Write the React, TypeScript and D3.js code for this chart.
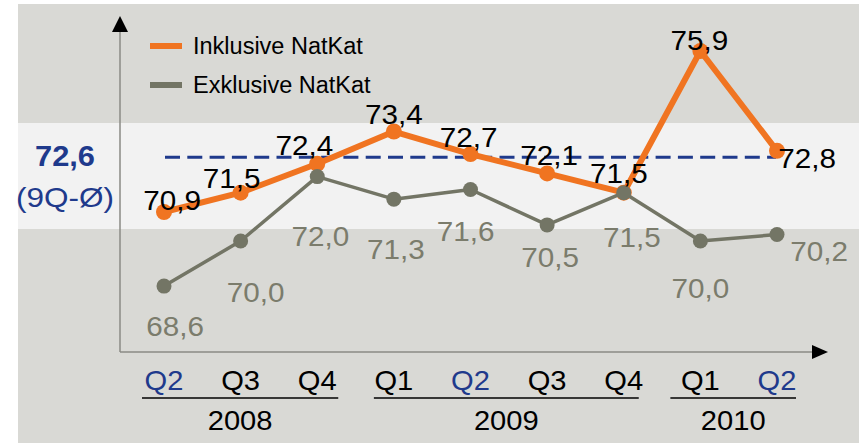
import React from "react";
import * as d3 from "d3";

const categories = ["Q2 2008", "Q3 2008", "Q4 2008", "Q1 2009", "Q2 2009", "Q3 2009", "Q4 2009", "Q1 2010", "Q2 2010"];
const quarterLabels = ["Q2", "Q3", "Q4", "Q1", "Q2", "Q3", "Q4", "Q1", "Q2"];
const highlighted = [true, false, false, false, true, false, false, false, true];
const inklusive = [70.9, 71.5, 72.4, 73.4, 72.7, 72.1, 71.5, 75.9, 72.8];
const exklusive = [68.6, 70.0, 72.0, 71.3, 71.6, 70.5, 71.5, 70.0, 70.2];
const average = 72.6;
const averageLabel = "72,6";
const averageSub = "(9Q-Ø)";
const years = ["2008", "2009", "2010"];
const yearStart = [0, 3, 7];
const yearEnd = [2, 6, 8];
const seriesNames = ["Inklusive NatKat", "Exklusive NatKat"];

// label offsets (layout only)
const inkOffsets: [number, number][] = [[8, -2], [-9, -5], [-13, -9], [0, -8], [-2, -7], [2, -8], [-5, -10], [-1, -1], [30, 17]];
const exkOffsets: [number, number][] = [[11, 50], [15, 61], [3, 69], [2, 60], [-5, 52], [3, 42], [8, 54], [0, 57], [42, 26]];
const yearPads: [number, number][] = [[22, 21], [20, 15], [30, 19]];

const W = 859;
const H = 443;
const ORANGE = "#f07421";
const GRAY = "#737565";
const GRAYTXT = "#7b7c6c";
const NAVY = "#1f3a8c";
const FONT = "'Liberation Sans', Arial, sans-serif";
const STRETCH = 1.06;

const fmt = (v: number) => v.toFixed(1).replace(".", ",");

function T(props: { x: number; y: number; size: number; fill: string; children: React.ReactNode; weight?: string }) {
  return (
    <text
      transform={`translate(${props.x},${props.y}) scale(${STRETCH},1)`}
      fontSize={props.size}
      fontWeight={props.weight || "normal"}
      textAnchor="middle"
      fill={props.fill}
    >
      {props.children}
    </text>
  );
}

export default function App() {
  const x = d3.scalePoint<string>().domain(categories).range([164, 777]);
  const y = d3.scaleLinear().domain([68, 76]).range([305.4, 47.8]);
  const line = d3
    .line<number>()
    .x((_, i) => x(categories[i]) as number)
    .y((d) => y(d));

  const axisX = 120;
  const axisY = 352;

  return (
    <svg width={W} height={H} style={{ position: "absolute", left: 0, top: 0, display: "block" }} fontFamily={FONT}>
      <rect x={0} y={0} width={W} height={H} fill="#ffffff" />
      <rect x={18} y={4} width={W - 18} height={H - 4} fill="#d9d9d5" />
      <rect x={18} y={123} width={W - 18} height={106} fill="#f2f2f2" />

      {/* axes */}
      <line x1={axisX} y1={30} x2={axisX} y2={axisY} stroke="#8a8a84" strokeWidth={1.5} />
      <path d={`M${axisX - 8},32 L${axisX},16 L${axisX + 8},32 Z`} fill="#000" />
      <line x1={axisX} y1={axisY} x2={814} y2={axisY} stroke="#8a8a84" strokeWidth={1.5} />
      <path d={`M812,${axisY - 7} L828,${axisY} L812,${axisY + 7} Z`} fill="#000" />

      {/* average line */}
      <line x1={165} x2={776} y1={y(average)} y2={y(average)} stroke={NAVY} strokeWidth={3} strokeDasharray="15 7.3" />

      {/* legend */}
      <line x1={150} x2={182} y1={46} y2={46} stroke={ORANGE} strokeWidth={6} />
      <text x={193} y={54} fontSize={23.5} fill="#000">{seriesNames[0]}</text>
      <line x1={150} x2={182} y1={85} y2={85} stroke={GRAY} strokeWidth={6} />
      <text x={193} y={93} fontSize={23.5} fill="#000">{seriesNames[1]}</text>

      {/* series */}
      <path d={line(inklusive) || ""} fill="none" stroke={ORANGE} strokeWidth={6} strokeLinejoin="round" />
      {inklusive.map((v, i) => (
        <circle key={"io" + i} cx={x(categories[i])} cy={y(v)} r={8} fill={ORANGE} />
      ))}
      <path d={line(exklusive) || ""} fill="none" stroke={GRAY} strokeWidth={3.5} strokeLinejoin="round" />
      {exklusive.map((v, i) => (
        <circle key={"eo" + i} cx={x(categories[i])} cy={y(v)} r={7.5} fill={GRAY} />
      ))}

      {/* value labels */}
      {inklusive.map((v, i) => (
        <T key={"il" + i} x={(x(categories[i]) as number) + inkOffsets[i][0]} y={y(v) + inkOffsets[i][1]} size={28} fill="#000">
          {fmt(v)}
        </T>
      ))}
      {exklusive.map((v, i) => (
        <T key={"el" + i} x={(x(categories[i]) as number) + exkOffsets[i][0]} y={y(v) + exkOffsets[i][1]} size={28} fill={GRAYTXT}>
          {fmt(v)}
        </T>
      ))}

      {/* average label */}
      <text x={35} y={166} fontSize={29} fontWeight="bold" fill={NAVY} textLength={60} lengthAdjust="spacingAndGlyphs">{averageLabel}</text>
      <text x={16} y={207} fontSize={28.5} fill={NAVY} textLength={98} lengthAdjust="spacingAndGlyphs">{averageSub}</text>

      {/* x labels */}
      {quarterLabels.map((q, i) => (
        <T key={"q" + i} x={x(categories[i]) as number} y={390} size={27.5} fill={highlighted[i] ? NAVY : "#000"}>
          {q}
        </T>
      ))}
      {years.map((yr, k) => {
        const x0 = (x(categories[yearStart[k]]) as number) - yearPads[k][0];
        const x1 = (x(categories[yearEnd[k]]) as number) + yearPads[k][1];
        return (
          <g key={"y" + k}>
            <line x1={x0} x2={x1} y1={398} y2={398} stroke="#000" strokeWidth={1.5} />
            <T x={(x0 + x1) / 2} y={430} size={27.5} fill="#000">{yr}</T>
          </g>
        );
      })}
    </svg>
  );
}
